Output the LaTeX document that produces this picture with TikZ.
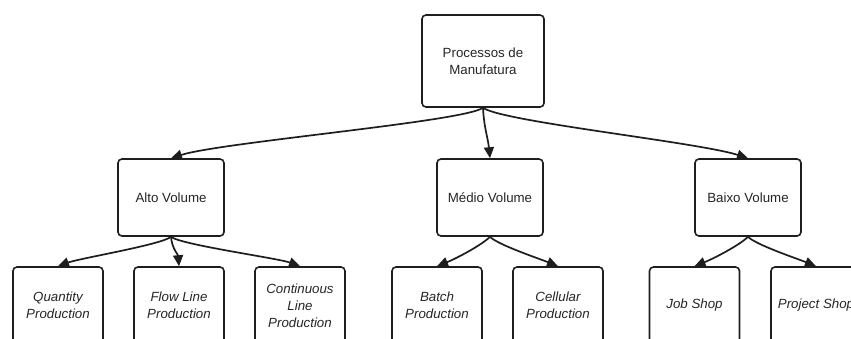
\documentclass[tikz,border=0pt]{standalone}
\usepackage{fontspec}
\setmainfont{Liberation Sans}
\usetikzlibrary{arrows.meta}
\definecolor{linec}{HTML}{1E1E1E}
\definecolor{textc}{HTML}{262626}
\begin{document}
\begin{tikzpicture}[x=1pt,y=-1pt,
  box/.style={draw=linec, line width=1.6pt, rounded corners=4pt, fill=white,
    align=center, text=textc, font=\fontsize{13.3}{17}\selectfont, inner sep=2pt,
    minimum width=106pt, minimum height=77pt},
  leaf/.style={box, minimum width=90pt, font=\fontsize{13.3}{17}\selectfont\itshape},
  conn/.style={draw=linec, line width=1.7pt, -{Triangle[length=11pt,width=10pt]}}]
\useasboundingbox[fill=white] (0,0) rectangle (851,338);
\clip (0,0) rectangle (851,338);
\node[box, minimum width=122pt, minimum height=92pt] (root) at (483,61) {Processos de\\Manufatura};
\node[box] (alto) at (171,197.5) {Alto Volume};
\node[box] (medio) at (490,197.5) {Médio Volume};
\node[box] (baixo) at (748,197.5) {Baixo Volume};
\node[leaf] (quant) at (58,305.5) {Quantity\\Production};
\node[leaf] (flow) at (179,305.5) {Flow Line\\Production};
\node[leaf] (cont) at (300,305.5) {Continuous\\Line\\Production};
\node[leaf] (batch) at (437,305.5) {Batch\\Production};
\node[leaf] (cell) at (558,305.5) {Cellular\\Production};
\node[leaf] (job) at (694.5,305.5) {Job Shop};
\node[leaf] (proj) at (816,305.5) {Project Shop};
\draw[conn] (root.south) .. controls +(-20,14) and +(50,-16) .. (alto.north);
\draw[conn] (root.south) .. controls +(1,20) and +(-2,-20) .. (medio.north);
\draw[conn] (root.south) .. controls +(20,14) and +(-50,-16) .. (baixo.north);
\draw[conn] (alto.south) .. controls +(-10,8) and +(22,-8) .. (quant.north);
\draw[conn] (alto.south) .. controls +(1,12) and +(-1,-12) .. (flow.north);
\draw[conn] (alto.south) .. controls +(10,8) and +(-22,-8) .. (cont.north);
\draw[conn] (medio.south) .. controls +(-8,8) and +(20,-8) .. (batch.north);
\draw[conn] (medio.south) .. controls +(8,8) and +(-20,-8) .. (cell.north);
\draw[conn] (baixo.south) .. controls +(-8,8) and +(20,-8) .. (job.north);
\draw[conn] (baixo.south) .. controls +(8,8) and +(-20,-8) .. (proj.north);
\end{tikzpicture}
\end{document}
